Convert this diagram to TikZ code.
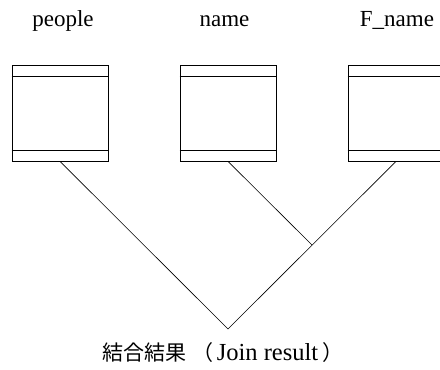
\documentclass[tikz,border=0pt]{standalone}
\usepackage{fontspec}
\setmainfont{Liberation Serif}
\newfontfamily\cjk{Noto Sans CJK JP}
\begin{document}
\begin{tikzpicture}[x=1pt,y=-1pt,
  tbl/.style={draw,line width=0.8pt,minimum width=96pt,minimum height=96pt,inner sep=0pt},
  band/.style={line width=0.8pt},
  conn/.style={line width=0.6pt},
  lbl/.style={anchor=base,inner sep=0pt,font=\fontsize{23}{27}\selectfont}]
\useasboundingbox (0,0) rectangle (440,370);
\node[tbl] (t1) at (60,113) {};
\node[tbl] (t2) at (228,113) {};
\node[tbl] (t3) at (396,113) {};
\foreach \t in {t1,t2,t3}{
  \draw[band] ([yshift=-11.7pt]\t.north west) -- ([yshift=-11.7pt]\t.north east);
  \draw[band] ([yshift=11.5pt]\t.south west) -- ([yshift=11.5pt]\t.south east);
}
\node[lbl] (l1) at (63,26) {people};
\node[lbl] (l2) at (224.5,26) {name};
\node[lbl] (l3) at (397,26) {F\_name};
\coordinate (j) at (312,245);
\coordinate (a) at (228,329);
\draw[conn] (t1.south) -- (a) -- (t3.south);
\draw[conn] (t2.south) -- (j);
\node[lbl,font=\fontsize{24.5}{28}\selectfont] (res) at (223,360)
  {{\fontsize{21}{25}\selectfont\cjk 結合結果\hspace{6pt}（}\hspace{3pt}Join result\hspace{4pt}{\fontsize{21}{25}\selectfont\cjk ）}};
\end{tikzpicture}
\end{document}
